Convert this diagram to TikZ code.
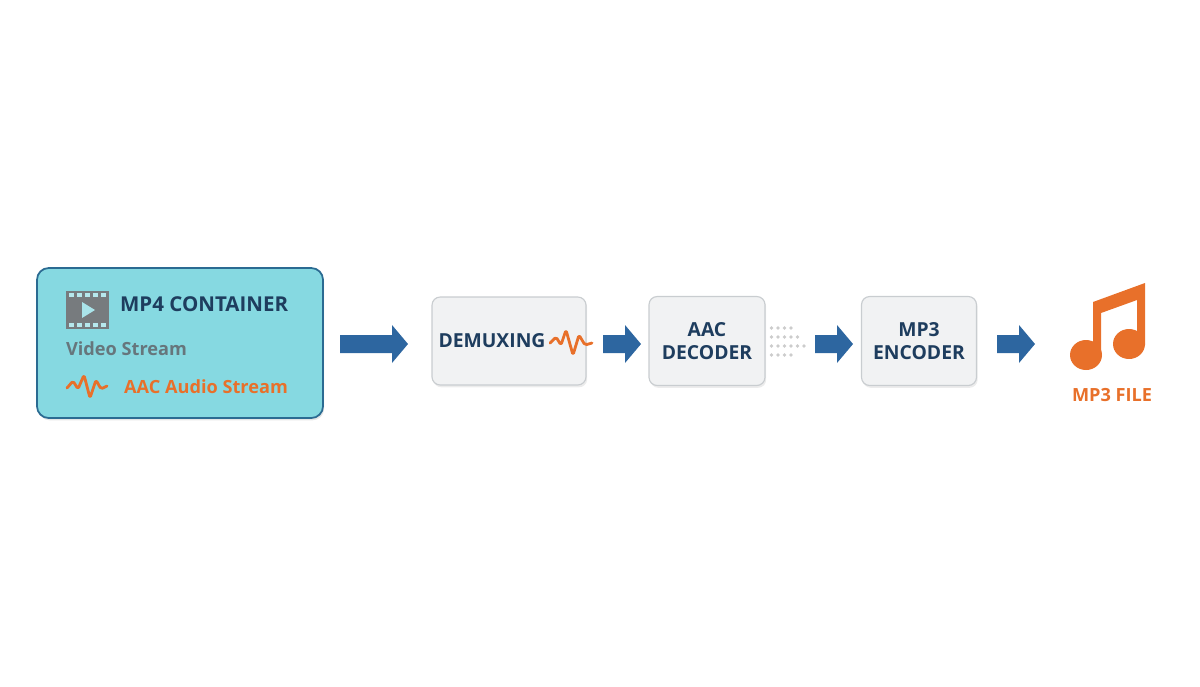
\documentclass[tikz,border=0pt]{standalone}
\usepackage{fontspec}
\setmainfont{Open Sans}
\usetikzlibrary{arrows.meta,shadows}
\definecolor{navy}{HTML}{1E3D5E}
\definecolor{orng}{HTML}{E8702A}
\definecolor{cyanf}{HTML}{86D9E1}
\definecolor{cbord}{HTML}{2B6B92}
\definecolor{boxf}{HTML}{F1F2F3}
\definecolor{boxd}{HTML}{C9CDD0}
\definecolor{arr}{HTML}{2D66A0}
\definecolor{greyt}{HTML}{66767C}
\definecolor{film}{HTML}{777B7E}
\begin{document}
\begin{tikzpicture}[x=0.03cm,y=-0.03cm,
  stage/.style={draw=boxd,line width=1pt,fill=boxf,rounded corners=7pt,drop shadow={opacity=0.15,shadow xshift=1pt,shadow yshift=-2pt}},
  lbl/.style={font=\fontsize{16.5}{20}\selectfont\bfseries,text=navy,align=center},
  wave/.style={draw=orng,line width=2.4pt,line cap=round,line join=round,rounded corners=1.5pt}]
\useasboundingbox (0,0) rectangle (1200,686);
% container
\node[draw=cbord,line width=1.5pt,fill=cyanf,rounded corners=10pt,minimum width=286*0.03cm,minimum height=150*0.03cm,inner sep=0,drop shadow={opacity=0.2,shadow xshift=1pt,shadow yshift=-2pt}] (cont) at (180,343) {};
% film icon
\fill[film] (66,291) rectangle (109,329);
\foreach \i in {0,...,4}{\fill[cyanf!60!white] (69+\i*8,293) rectangle (74+\i*8,297);\fill[cyanf!60!white] (69+\i*8,323) rectangle (74+\i*8,327);}
\fill[cyanf!70!white] (82,302) -- (82,318) -- (95,310) -- cycle;
\node[anchor=west,text=navy,font=\fontsize{17.5}{20}\selectfont\bfseries] (mp4) at (116,304) {MP4 CONTAINER};
\node[anchor=west,text=greyt,font=\fontsize{15.5}{18}\selectfont\bfseries] (vid) at (62,349) {Video Stream};
\draw[wave] (67,388) -- (73,381) -- (78,389) -- (84,375) -- (90,398) -- (96,380) -- (101,389) -- (107,386);
\node[anchor=west,text=orng,font=\fontsize{15.5}{18}\selectfont\bfseries] (aac) at (120,387) {AAC Audio Stream};
% stages
\node[stage,minimum width=154*0.03cm,minimum height=88*0.03cm] (dem) at (509,341) {};
\node[lbl,anchor=center] (demt) at (492,341) {DEMUXING};
\draw[wave] (550,343) -- (556,337) -- (561,345) -- (566,330) -- (573,355) -- (579,335) -- (585,345) -- (592,343);
\node[stage,minimum width=116*0.03cm,minimum height=89*0.03cm,lbl] (dec) at (707,341) {AAC\\DECODER};
\node[stage,minimum width=115*0.03cm,minimum height=89*0.03cm,lbl] (enc) at (919,341) {MP3\\ENCODER};
% dots
\foreach \x/\y/\n in {768/328/4,768/337/5,768/346/6,768/355/4}{
  \foreach \k in {1,...,\n}{\fill[gray!40] (\x+\k*6.5-3,\y) circle (1.8);}}
% arrows
\newcommand{\blkarrow}[3]{\fill[arr] (#1,#3-9) -- (#2-16,#3-9) -- (#2-16,#3-19) -- (#2,#3) -- (#2-16,#3+19) -- (#2-16,#3+9) -- (#1,#3+9) -- cycle;}
\blkarrow{340}{408}{344}
\blkarrow{603}{641}{344}
\blkarrow{815}{853}{344}
\blkarrow{997}{1035}{344}
% note
\fill[orng] (1093,302) -- (1145,283) -- (1145,345) -- (1137,345) -- (1137,300) -- (1101,313) -- (1101,355) -- (1093,355) -- cycle;
\fill[orng] (1086,355) ellipse (16 and 15);
\fill[orng] (1129,344) ellipse (16 and 15);
\node[text=orng,font=\fontsize{15.5}{18}\selectfont\bfseries] (file) at (1112,395) {MP3 FILE};
\end{tikzpicture}
\end{document}
